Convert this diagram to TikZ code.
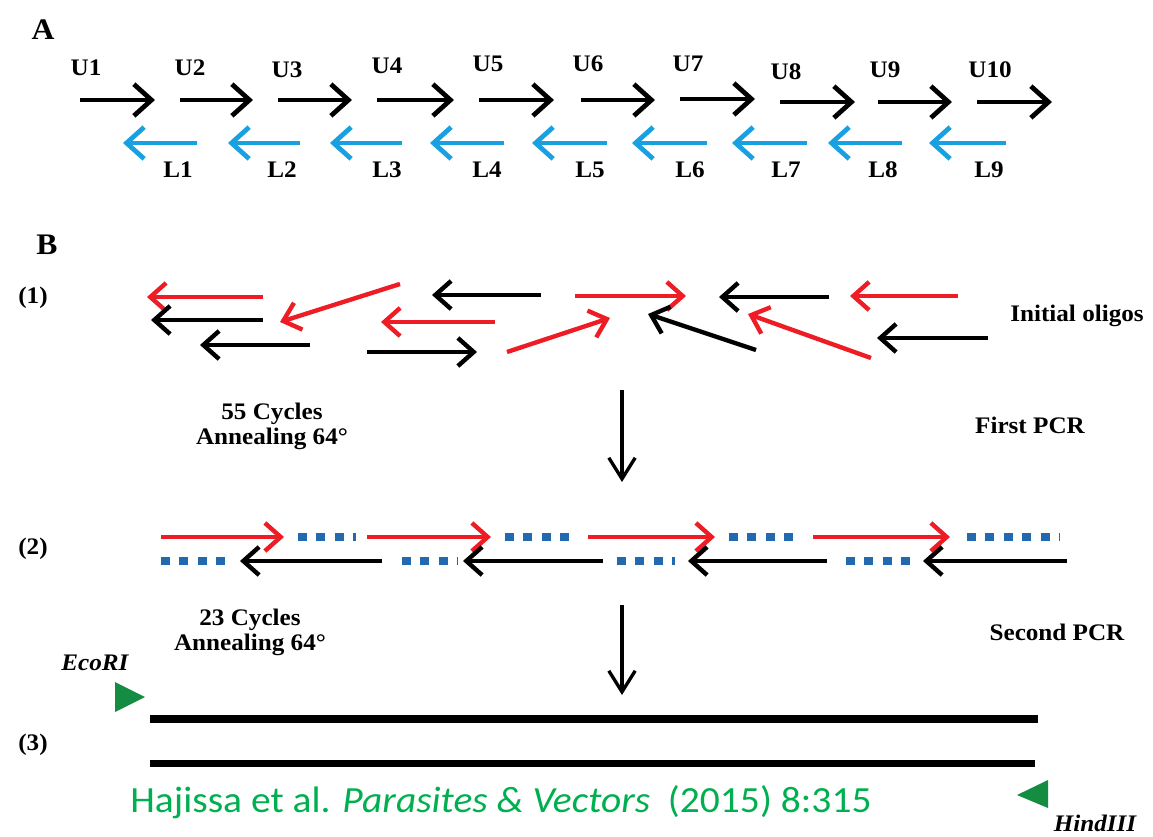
\documentclass[tikz,border=0pt]{standalone}
\usepackage{fontspec}
\setmainfont{Liberation Serif}
\newfontfamily\calib{Carlito}
\usetikzlibrary{arrows.meta}
\definecolor{lblue}{RGB}{25,160,225}
\definecolor{dblue}{RGB}{35,105,175}
\definecolor{myred}{RGB}{238,28,36}
\definecolor{tgreen}{RGB}{20,140,65}
\definecolor{cgreen}{RGB}{0,176,80}
\newcommand\stx[1]{\scalebox{1.06}[1]{#1}}
\begin{document}
\begin{tikzpicture}[x=0.02cm,y=-0.02cm,
  lab/.style={font=\fontsize{13.5}{15}\selectfont\bfseries, inner sep=0pt},
  big/.style={font=\fontsize{17}{19}\selectfont\bfseries, inner sep=0pt},
  uarr/.style={line width=2.7pt, -{Straight Barb[length=10pt,width=18pt]}},
  larr/.style={uarr, lblue},
  oli/.style={line width=2.5pt, -{Straight Barb[length=9pt,width=16pt]}},
  redo/.style={oli, myred},
  blko/.style={oli, black},
  dots/.style={dblue, line width=5pt, dash pattern=on 5pt off 5.5pt},
  vflow/.style={line width=1.9pt, -{Straight Barb[length=12pt,width=15pt]}},
  strand/.style={line width=4pt},
  site/.style={fill=tgreen, draw=none}
]
\useasboundingbox (0,0) rectangle (1153,836);
\fill[white] (0,0) rectangle (1153,836);

% ---------- Panel A ----------
\node[big] (A) at (43,30) {\stx{A}};
\foreach \a/\b/\y/\lx/\ly [count=\i] in {
  80/155/100/86/68, 180/253/100/190/68, 278/352/100/287/70,
  377/454/100/387/66, 479/554/100/488/64, 581/655/100/588/64,
  680/755/99/688/64, 780/855/102/786/72, 878/952/102/885/70,
  977/1052/102/990/70}{
  \coordinate (us\i) at (\a,\y);
  \coordinate (ue\i) at (\b,\y);
  \draw[uarr] (us\i) -- (ue\i);
  \node[lab] (U\i) at (\lx,\ly) {\stx{U\i}};
}
\foreach \h/\t/\lx [count=\i] in {
  123/197/178, 228/300/282, 330/402/387, 430/504/487, 532/607/590,
  632/707/690, 732/807/786, 828/902/883, 929/1006/989}{
  \coordinate (ls\i) at (\t,143);
  \coordinate (le\i) at (\h,143);
  \draw[larr] (ls\i) -- (le\i);
  \node[lab] (L\i) at (\lx,170) {\stx{L\i}};
}

% ---------- Panel B ----------
\node[big] (B) at (47,245) {\stx{B}};
\node[lab] (s1) at (33,298) {\stx{(1)}};
\node[lab] (s2) at (33,549) {\stx{(2)}};
\node[lab] (s3) at (33,745) {\stx{(3)}};

% (1) initial oligos
\foreach \sx/\sy/\ex/\ey/\st [count=\i] in {
  263/297/147/297/redo, 263/320/151/320/blko, 310/345/200/345/blko,
  400/284/280/322/redo, 541/295/432/295/blko, 495/322/381/322/redo,
  367/352/477/352/blko, 507/352/610/318/redo, 575/296/686/296/redo,
  829/297/719/297/blko, 756/350/648/314/blko, 871/358/748/314/redo,
  958/296/850/296/redo, 988/338/877/338/blko}{
  \coordinate (os\i) at (\sx,\sy);
  \coordinate (oe\i) at (\ex,\ey);
  \draw[\st] (os\i) -- (oe\i);
}
\node[lab] (init) at (1077,316) {\stx{Initial oligos}};

% first PCR
\coordinate (v1s) at (622,390);
\coordinate (v1e) at (622,482);
\draw[vflow] (v1s) -- (v1e);
\node[lab] (c55) at (272,414) {\stx{55 Cycles}};
\node[lab] (an1) at (272,439) {\stx{Annealing 64°}};
\node[lab] (pcr1) at (1030,425) {\stx{First PCR}};

% (2) assembled strands
\foreach \a/\b [count=\i] in {161/284, 367/491, 588/715, 813/950}{
  \coordinate (rs\i) at (\a,537);
  \coordinate (re\i) at (\b,537);
  \draw[redo] (rs\i) -- (re\i);
}
\foreach \a/\b [count=\i] in {298/356, 505/570, 729/794, 967/1060}{
  \coordinate (ds\i) at (\a,537);
  \coordinate (de\i) at (\b,537);
  \draw[dots] (ds\i) -- (de\i);
}
\foreach \h/\t [count=\i] in {240/382, 463/603, 688/827, 923/1067}{
  \coordinate (bs\i) at (\t,561);
  \coordinate (be\i) at (\h,561);
  \draw[blko] (bs\i) -- (be\i);
}
\foreach \a/\b [count=\i] in {161/226, 402/458, 617/675, 846/910}{
  \coordinate (dls\i) at (\a,561);
  \coordinate (dle\i) at (\b,561);
  \draw[dots] (dls\i) -- (dle\i);
}

% second PCR
\coordinate (v2s) at (622,605);
\coordinate (v2e) at (622,695);
\draw[vflow] (v2s) -- (v2e);
\node[lab] (c23) at (250,620) {\stx{23 Cycles}};
\node[lab] (an2) at (250,645) {\stx{Annealing 64°}};
\node[lab] (pcr2) at (1057,632) {\stx{Second PCR}};

% (3) final product
\coordinate (t1s) at (150,719);
\coordinate (t1e) at (1038,719);
\coordinate (t2s) at (150,763);
\coordinate (t2e) at (1035,763);
\draw[strand] (t1s) -- (t1e);
\draw[strand] (t2s) -- (t2e);
\node[lab] (eco) at (95,663) {\stx{\itshape EcoRI}};
\fill[site] (115,682) -- (115,712) -- (145,697) -- cycle;
\fill[site] (1048,780) -- (1048,808) -- (1017,795) -- cycle;
\node[lab] (hind) at (1095,823) {\stx{\itshape HindIII}};

% citation
\node[font=\calib\fontsize{21}{24}\selectfont, text=cgreen, inner sep=0pt, anchor=base west] (cite) at (130,812)
  {\scalebox{1.07}[1]{Hajissa et al. \textit{Parasites \& Vectors}\ \ (2015) 8:315}};
\end{tikzpicture}
\end{document}
